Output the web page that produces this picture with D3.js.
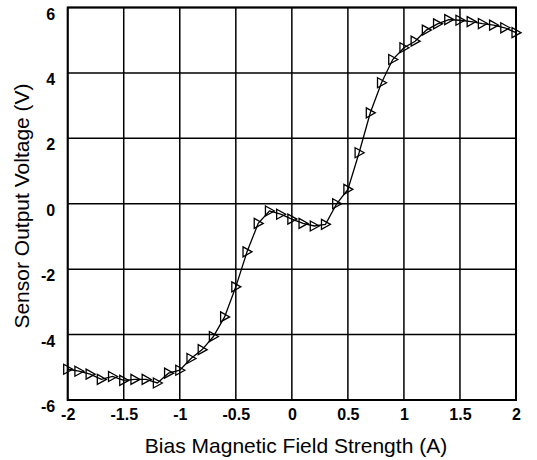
<!DOCTYPE html>
<html><head><meta charset="utf-8">
<script src="https://cdn.jsdelivr.net/npm/d3@7"></script>
<style>body{margin:0;background:#fff}svg{display:block}</style>
</head><body>
<script>
const fieldA = [-2,-1.9,-1.8,-1.7,-1.6,-1.5,-1.4,-1.3,-1.2,-1.1,-1.0,-0.9,-0.8,-0.7,-0.6,-0.5,-0.4,-0.3,-0.2,-0.1,0,0.1,0.2,0.3,0.4,0.5,0.6,0.7,0.8,0.9,1.0,1.1,1.2,1.3,1.4,1.5,1.6,1.7,1.8,1.9,2.0];
const voltageV = [-5.06,-5.12,-5.21,-5.37,-5.28,-5.40,-5.37,-5.37,-5.48,-5.18,-5.09,-4.73,-4.46,-4.06,-3.46,-2.54,-1.47,-0.60,-0.22,-0.32,-0.47,-0.60,-0.68,-0.63,0.0,0.44,1.56,2.78,3.70,4.41,4.77,4.97,5.31,5.50,5.63,5.61,5.57,5.51,5.46,5.38,5.23];
const xTicks = [-2,-1.5,-1,-0.5,0,0.5,1,1.5,2];
const xTickLabels = ["-2","-1.5","-1","-0.5","0","0.5","1","1.5","2"];
const yTicks = [-6,-4,-2,0,2,4,6];
const yTickLabels = ["-6","-4","-2","0","2","4","6"];
const xTitle = "Bias Magnetic Field Strength (A)";
const yTitle = "Sensor Output Voltage (V)";

const W = 537, H = 460;
const m = {l:67.7, r:W-516, t:7.5, b:H-400};
const svg = d3.select("body").append("svg").attr("width",W).attr("height",H);
const x = d3.scaleLinear().domain([-2,2]).range([m.l, W-m.r]);
const y = d3.scaleLinear().domain([-6,6]).range([H-m.b, m.t]);
const font = "Arial, 'Liberation Sans', Helvetica, sans-serif";

// grid
const g = svg.append("g");
g.selectAll("line.v").data(xTicks).join("line")
  .attr("x1",d=>x(d)).attr("x2",d=>x(d)).attr("y1",y(-6)).attr("y2",y(6))
  .attr("stroke","#000").attr("stroke-width",1.5);
g.selectAll("line.h").data(yTicks).join("line")
  .attr("y1",d=>y(d)).attr("y2",d=>y(d)).attr("x1",x(-2)).attr("x2",x(2))
  .attr("stroke","#000").attr("stroke-width",1.5);
g.append("rect").attr("x",x(-2)).attr("y",y(6)).attr("width",x(2)-x(-2)).attr("height",y(-6)-y(6))
  .attr("fill","none").attr("stroke","#000").attr("stroke-width",2);

// axes labels via d3 axes
const xAxis = d3.axisBottom(x).tickValues(xTicks).tickFormat((d,i)=>xTickLabels[i]).tickSize(0).tickPadding(8.6);
const xa = svg.append("g").attr("transform",`translate(0,${y(-6)})`).call(xAxis);
xa.select(".domain").remove();
xa.selectAll("text").attr("font-family",font).attr("font-size",16).attr("font-weight","bold").attr("fill","#000");

const yAxis = d3.axisLeft(y).tickValues(yTicks).tickFormat((d,i)=>yTickLabels[i]).tickSize(0).tickPadding(12.5);
const ya = svg.append("g").attr("transform",`translate(${x(-2)},0)`).call(yAxis);
ya.select(".domain").remove();
ya.selectAll("text").attr("font-family",font).attr("font-size",16).attr("font-weight","bold").attr("fill","#000").attr("dy","0.72em");

// titles
svg.append("text").attr("x",296).attr("y",453).attr("text-anchor","middle")
  .attr("font-family",font).attr("font-size",21).attr("fill","#000").text(xTitle);
svg.append("text").attr("transform",`translate(29,206) rotate(-90)`).attr("text-anchor","middle")
  .attr("font-family",font).attr("font-size",21).attr("fill","#000").text(yTitle);

// data
const pts = fieldA.map((v,i)=>[v,voltageV[i]]);
svg.append("path").datum(pts)
  .attr("d", d3.line().x(d=>x(d[0])).y(d=>y(d[1])))
  .attr("fill","none").attr("stroke","#000").attr("stroke-width",1.3);
svg.selectAll("path.m").data(pts).join("path").attr("class","m")
  .attr("d","M-4,-5L5,0L-4,5Z")
  .attr("transform",d=>`translate(${x(d[0])},${y(d[1])})`)
  .attr("fill","none").attr("stroke","#000").attr("stroke-width",1.3);
</script>
</body></html>
